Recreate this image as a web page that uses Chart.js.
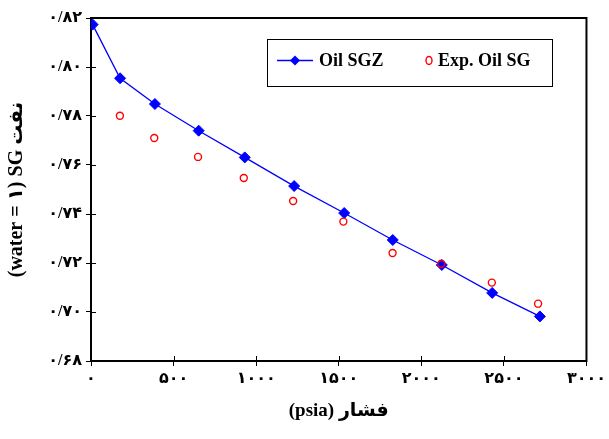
<!DOCTYPE html>
<html>
<head>
<meta charset="utf-8">
<script src="https://cdn.jsdelivr.net/npm/chart.js@4.4.1/dist/chart.umd.min.js"></script>
<style>
  html, body { margin: 0; padding: 0; background: #fff; }
</style>
</head>
<body>
<canvas id="chart" width="609" height="439"></canvas>
<script>
// values
const sgzPressures = [10, 176, 387, 652, 931, 1230, 1533, 1827, 2124, 2429, 2718];
const sgzValues = [0.8173, 0.7954, 0.7849, 0.7740, 0.7631, 0.7514, 0.7404, 0.7294, 0.7192, 0.7078, 0.6982];
const expPressures = [175, 383, 648, 925, 1224, 1528, 1826, 2121, 2427, 2707];
const expValues = [0.7801, 0.7710, 0.7633, 0.7547, 0.7453, 0.7369, 0.7241, 0.7197, 0.7120, 0.7034];
const seriesNames = ['Oil SGZ', 'Exp. Oil SG'];
const xTitle = '(psia) فشار';
const yTitle = '(water = ۱) SG نفت';

const FONT = "'Liberation Serif', 'DejaVu Sans', serif";
const faDigits = '۰۱۲۳۴۵۶۷۸۹';

function toPersian(str) {
    return str.replace(/[0-9]/g, d => faDigits[+d]).replace('.', '/');
}

// box around the plot area plus inward tick marks
const framePlugin = {
    id: 'frame',
    beforeDatasetsDraw(chart) {
        const { ctx, chartArea: a, scales } = chart;
        ctx.save();
        ctx.strokeStyle = '#000';
        ctx.lineWidth = 2;
        ctx.strokeRect(a.left, a.top, a.right - a.left, a.bottom - a.top);
        ctx.lineWidth = 1;
        ctx.beginPath();
        scales.x.ticks.forEach(t => {
            const px = Math.round(scales.x.getPixelForValue(t.value)) + 0.5;
            ctx.moveTo(px, a.bottom);
            ctx.lineTo(px, a.bottom - 5);
        });
        scales.y.ticks.forEach(t => {
            const py = Math.round(scales.y.getPixelForValue(t.value)) + 0.5;
            ctx.moveTo(a.left, py);
            ctx.lineTo(a.left + 5, py);
        });
        ctx.stroke();
        ctx.restore();
    }
};

// legend box inside the plot, top right
const boxLegendPlugin = {
    id: 'boxLegend',
    afterDraw(chart) {
        const { ctx, chartArea: a } = chart;
        const ds = chart.data.datasets;
        const x0 = a.left + 176, y0 = a.top + 21, w = 285, h = 47;
        const cy = y0 + h / 2 - 2;
        ctx.save();
        ctx.fillStyle = '#fff';
        ctx.fillRect(x0, y0, w, h);
        ctx.strokeStyle = '#000';
        ctx.lineWidth = 1;
        ctx.strokeRect(x0 + 0.5, y0 + 0.5, w, h);

        // series 1: line + diamond
        ctx.strokeStyle = ds[0].borderColor;
        ctx.lineWidth = ds[0].borderWidth;
        ctx.beginPath();
        ctx.moveTo(x0 + 10, cy);
        ctx.lineTo(x0 + 46, cy);
        ctx.stroke();
        ctx.fillStyle = ds[0].pointBackgroundColor;
        ctx.beginPath();
        ctx.moveTo(x0 + 28, cy - 5);
        ctx.lineTo(x0 + 33, cy);
        ctx.lineTo(x0 + 28, cy + 5);
        ctx.lineTo(x0 + 23, cy);
        ctx.closePath();
        ctx.fill();

        // series 2: open circle
        ctx.strokeStyle = ds[1].pointBorderColor;
        ctx.lineWidth = ds[1].pointBorderWidth;
        ctx.beginPath();
        ctx.ellipse(x0 + 162, cy, 3, 4, 0, 0, Math.PI * 2);
        ctx.stroke();

        ctx.fillStyle = '#000';
        ctx.font = 'bold 18px ' + FONT;
        ctx.textBaseline = 'middle';
        ctx.textAlign = 'left';
        ctx.fillText(ds[0].label, x0 + 52, cy + 1);
        ctx.fillText(ds[1].label, x0 + 171, cy + 1);
        ctx.restore();
    }
};

new Chart(document.getElementById('chart'), {
    type: 'scatter',
    data: {
        datasets: [
            {
                label: seriesNames[0],
                data: sgzPressures.map((p, i) => ({ x: p, y: sgzValues[i] })),
                order: 2,
                showLine: true,
                borderColor: '#0000ff',
                borderWidth: 1.3,
                pointStyle: 'rectRot',
                pointRadius: 5.5,
                pointBackgroundColor: '#0000ff',
                pointBorderColor: '#0000ff',
                pointBorderWidth: 1
            },
            {
                label: seriesNames[1],
                data: expPressures.map((p, i) => ({ x: p, y: expValues[i] })),
                order: 1,
                showLine: false,
                pointStyle: 'circle',
                pointRadius: 3.5,
                pointBackgroundColor: 'rgba(255,255,255,0)',
                pointBorderColor: '#ff0000',
                pointBorderWidth: 1.4
            }
        ]
    },
    options: {
        responsive: false,
        animation: false,
        layout: { autoPadding: false, padding: { top: 18, right: 20, left: 0, bottom: 0 } },
        plugins: {
            legend: { display: false },
            tooltip: { enabled: false }
        },
        scales: {
            x: {
                type: 'linear',
                min: 0,
                max: 3000,
                afterFit: s => { s.height = 78; },
                ticks: {
                    stepSize: 500,
                    color: '#000',
                    padding: 3,
                    maxRotation: 0,
                    font: { family: FONT, size: 16, weight: 'bold' },
                    callback: v => toPersian(String(v))
                },
                grid: { drawOnChartArea: false, color: '#000', tickLength: 5 },
                border: { color: '#000', width: 2 },
                title: {
                    display: true,
                    text: xTitle,
                    color: '#000',
                    font: { family: FONT, size: 19, weight: 'bold' },
                    padding: { top: 0, bottom: 17 }
                }
            },
            y: {
                min: 0.68,
                max: 0.82,
                afterFit: s => { s.width = 91; },
                ticks: {
                    stepSize: 0.02,
                    color: '#000',
                    padding: 4,
                    font: { family: FONT, size: 16, weight: 'bold' },
                    callback: v => toPersian(v.toFixed(2))
                },
                grid: { drawOnChartArea: false, color: '#000', tickLength: 5 },
                border: { color: '#000', width: 2 },
                title: {
                    display: true,
                    text: yTitle,
                    color: '#000',
                    font: { family: FONT, size: 20, weight: 'bold' },
                    padding: { top: 5, bottom: 0 }
                }
            }
        }
    },
    plugins: [framePlugin, boxLegendPlugin]
});
</script>
</body>
</html>
